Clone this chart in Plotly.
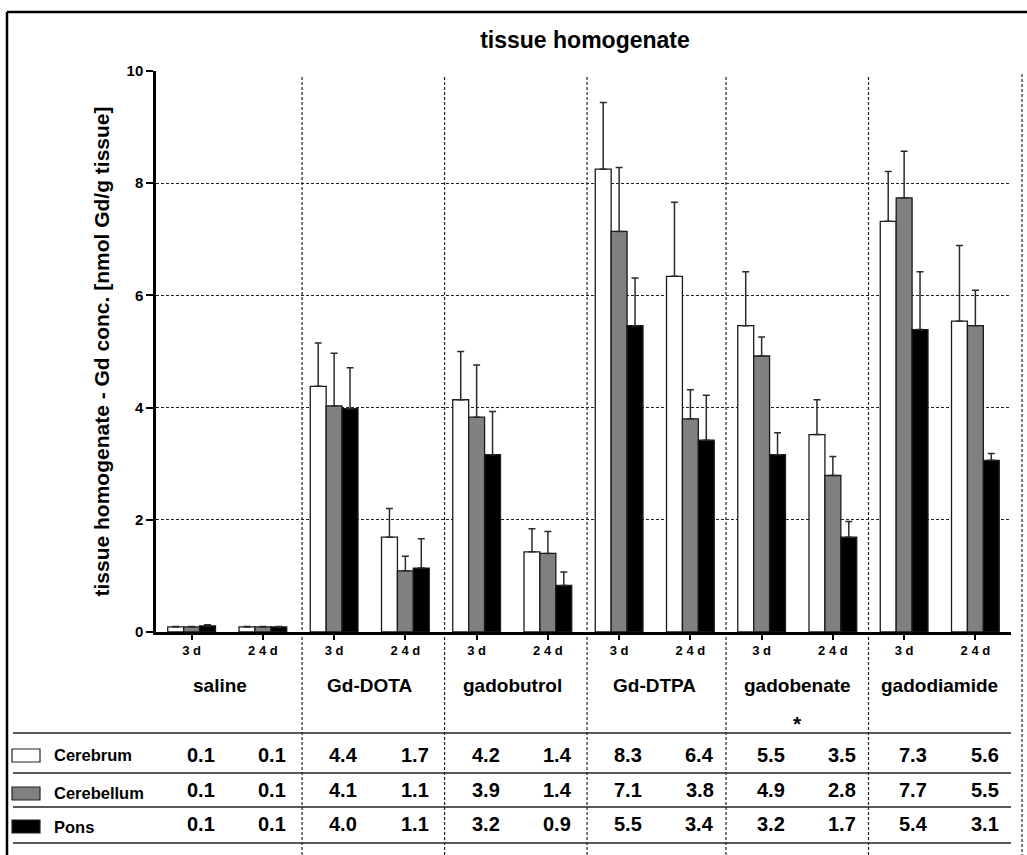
import plotly.graph_objects as go

# ---------------- data ----------------
groups = ["saline", "Gd-DOTA", "gadobutrol", "Gd-DTPA", "gadobenate", "gadodiamide"]
timepoints = ["3 d", "2 4 d"]
tissues = ["Cerebrum", "Cerebellum", "Pons"]

cerebrum_mean = [0.09, 0.09, 4.38, 1.69, 4.14, 1.43, 8.25, 6.34, 5.46, 3.52, 7.32, 5.54]
cerebellum_mean = [0.09, 0.09, 4.03, 1.09, 3.83, 1.40, 7.14, 3.80, 4.92, 2.79, 7.74, 5.46]
pons_mean = [0.11, 0.09, 3.98, 1.14, 3.16, 0.83, 5.46, 3.42, 3.16, 1.69, 5.39, 3.06]

cerebrum_err = [0.01, 0.01, 0.77, 0.51, 0.86, 0.41, 1.19, 1.32, 0.96, 0.62, 0.89, 1.35]
cerebellum_err = [0.01, 0.01, 0.94, 0.26, 0.93, 0.39, 1.14, 0.52, 0.34, 0.34, 0.83, 0.63]
pons_err = [0.02, 0.01, 0.73, 0.52, 0.77, 0.24, 0.85, 0.80, 0.39, 0.28, 1.03, 0.12]

cerebrum_table = ["0.1", "0.1", "4.4", "1.7", "4.2", "1.4", "8.3", "6.4", "5.5", "3.5", "7.3", "5.6"]
cerebellum_table = ["0.1", "0.1", "4.1", "1.1", "3.9", "1.4", "7.1", "3.8", "4.9", "2.8", "7.7", "5.5"]
pons_table = ["0.1", "0.1", "4.0", "1.1", "3.2", "0.9", "5.5", "3.4", "3.2", "1.7", "5.4", "3.1"]

y_ticks = [0, 2, 4, 6, 8, 10]
significant_group = "gadobenate"

# ---------------- layout geometry ----------------
W, H = 1027, 855
L, R, T, B = 156, 16, 71, 223
PW, PH = W - L - R, H - T - B
FONT = "Liberation Sans, Arial, Helvetica, sans-serif"


def px(xpix):
    return (xpix - L) / PW


def py(ypix):
    return (T + PH - ypix) / PH


n = len(groups) * len(timepoints)
xs = list(range(n))
tick_text = [timepoints[i % 2] for i in xs]

colors = ["#ffffff", "#808080", "#000000"]
means = [cerebrum_mean, cerebellum_mean, pons_mean]
errs = [cerebrum_err, cerebellum_err, pons_err]
tables = [cerebrum_table, cerebellum_table, pons_table]

fig = go.Figure()
for name, m, e, c in zip(tissues, means, errs, colors):
    fig.add_trace(go.Bar(
        x=xs, y=m, name=name,
        marker=dict(color=c, line=dict(color="#1a1a1a", width=1.3)),
        error_y=dict(type="data", symmetric=False, array=e,
                     arrayminus=[0] * n, color="#2a2a2a",
                     thickness=1.5, width=3.5),
        showlegend=False,
    ))

shapes = []
annotations = []

# frame
shapes.append(dict(type="line", xref="paper", yref="paper",
                   x0=px(7), x1=px(1027), y0=py(12), y1=py(12),
                   line=dict(color="black", width=2.5)))
shapes.append(dict(type="line", xref="paper", yref="paper",
                   x0=px(7), x1=px(7), y0=py(12), y1=py(855),
                   line=dict(color="black", width=2.5)))
shapes.append(dict(type="line", xref="paper", yref="paper",
                   x0=px(1022), x1=px(1022), y0=py(74), y1=py(855),
                   line=dict(color="#555", width=1.5, dash="3px,2px")))

# group separators (dashed, extend through labels and table)
for k in range(1, len(groups)):
    xsep = 2 * k - 0.5 + (0.05 if k <= 3 else 0.0)
    xpos = (xsep + 0.5) / n
    shapes.append(dict(type="line", xref="paper", yref="paper",
                       x0=xpos, x1=xpos, y0=py(855), y1=py(75),
                       line=dict(color="#222", width=1.2, dash="3px,2px"),
                       layer="below"))

# table horizontal rules
for ypix in [733, 773, 807, 843]:
    shapes.append(dict(type="line", xref="paper", yref="paper",
                       x0=px(13), x1=px(1011), y0=py(ypix), y1=py(ypix),
                       line=dict(color="#222", width=1.6)))

# group labels
for g, name in enumerate(groups):
    annotations.append(dict(x=2 * g + 0.5 - (0.1 if g == 0 else 0), y=py(685), xref="x", yref="paper",
                            text=name, showarrow=False,
                            font=dict(family=FONT, size=19, color="black", weight="bold"),
                            xanchor="center", yanchor="middle"))
    if name == significant_group:
        annotations.append(dict(x=2 * g + 0.5, y=py(723), xref="x", yref="paper",
                                text="*", showarrow=False,
                                font=dict(family=FONT, size=21, color="black", weight="bold"),
                                xanchor="center", yanchor="middle"))

# table rows: legend swatches, names and values
row_y = [755, 790, 824]
box_y = [(749, 762), (787, 800), (820, 833)]
for r in range(3):
    shapes.append(dict(type="rect", xref="paper", yref="paper",
                       x0=px(12), x1=px(40), y0=py(box_y[r][1]), y1=py(box_y[r][0]),
                       fillcolor=colors[r], line=dict(color="#222", width=1.2)))
    annotations.append(dict(x=px(52), y=py(row_y[r] + (3 if r else 0)), xref="paper", yref="paper",
                            text=tissues[r], showarrow=False,
                            font=dict(family=FONT, size=16.5, color="black", weight="bold"),
                            xanchor="left", yanchor="middle"))
    for i in xs:
        annotations.append(dict(x=i + 0.13, y=py(row_y[r]), xref="x", yref="paper",
                                text=tables[r][i], showarrow=False,
                                font=dict(family=FONT, size=20, color="black", weight="bold"),
                                xanchor="center", yanchor="middle"))

fig.update_layout(
    width=W, height=H,
    margin=dict(l=L, r=R, t=T, b=B, autoexpand=False),
    paper_bgcolor="white", plot_bgcolor="white",
    barmode="group", bargap=0.33, bargroupgap=0,
    title=dict(text="tissue homogenate", x=px(585), xref="paper", xanchor="center",
               y=1 - 40 / H, yanchor="middle",
               font=dict(family=FONT, size=23, color="black", weight="bold")),
    xaxis=dict(range=[-0.5, n - 0.5], tickvals=xs, ticktext=tick_text,
               showline=True, linecolor="black", linewidth=2.5,
               ticks="outside", ticklen=5, tickwidth=2, tickcolor="black",
               showgrid=False, zeroline=False,
               tickfont=dict(family=FONT, size=13, color="black", weight="bold")),
    yaxis=dict(range=[0, 10], tickvals=y_ticks,
               showline=True, linecolor="black", linewidth=2.5,
               ticks="outside", ticklen=7, tickwidth=2, tickcolor="black",
               showgrid=True, gridcolor="#222", gridwidth=1.1, griddash="3px,2px",
               zeroline=False,
               tickfont=dict(family=FONT, size=15, color="black", weight="bold"),
               title=dict(text="tissue homogenate - Gd conc. [nmol Gd/g tissue]",
                          font=dict(family=FONT, size=21, color="black", weight="bold"),
                          standoff=12)),
    shapes=shapes,
    annotations=annotations,
)

fig.write_html("out.html")
